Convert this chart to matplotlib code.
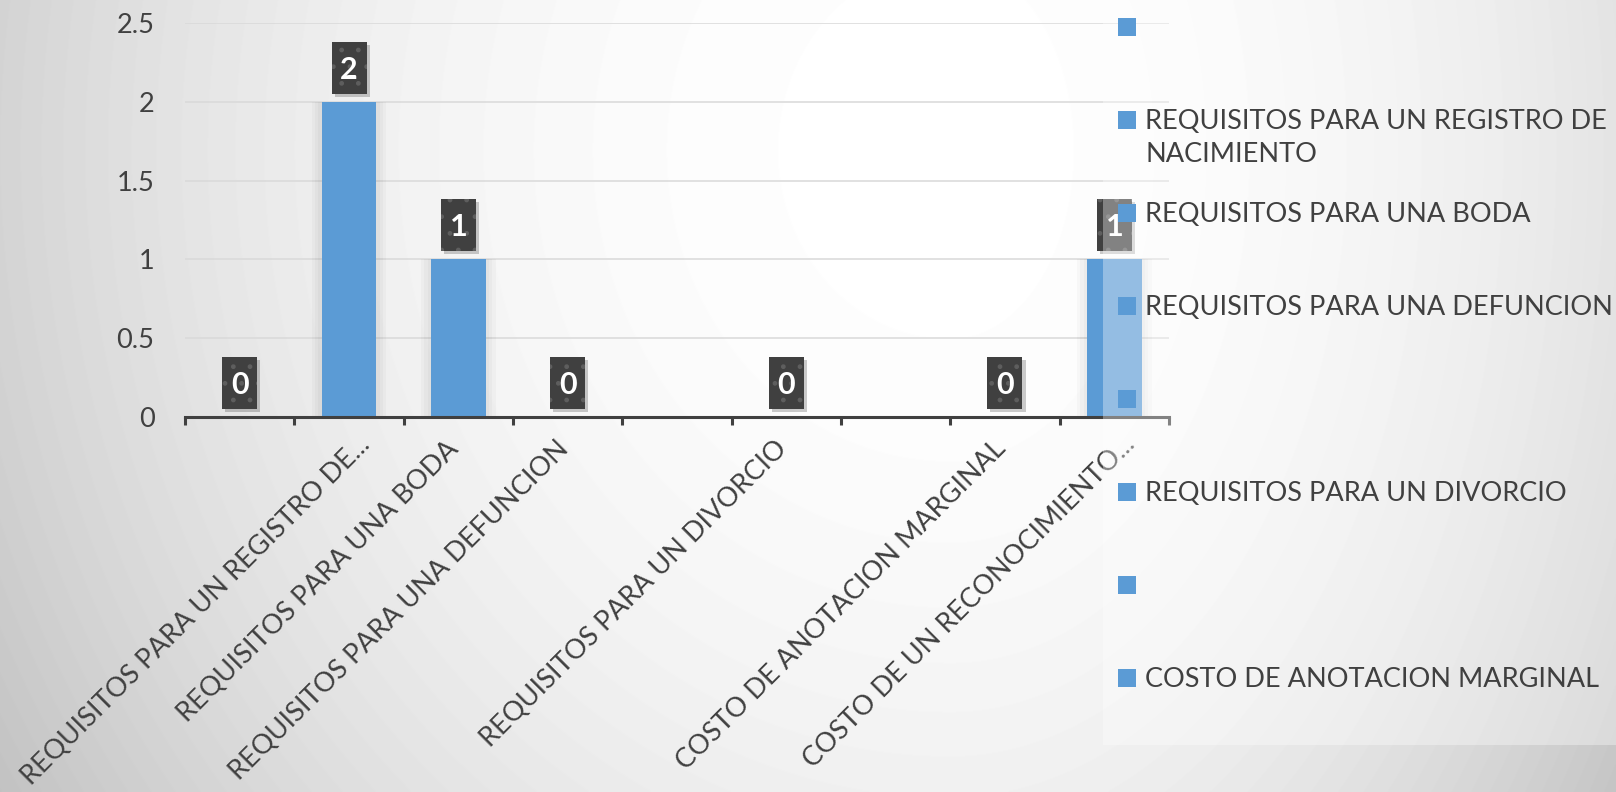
import textwrap
import numpy as np
import matplotlib.pyplot as plt
from matplotlib.patches import Rectangle

plt.rcParams['font.family'] = ['Lato', 'DejaVu Sans']

# datos del grafico
categorias = ['', 'REQUISITOS PARA UN REGISTRO DE NACIMIENTO', 'REQUISITOS PARA UNA BODA',
              'REQUISITOS PARA UNA DEFUNCION', '', 'REQUISITOS PARA UN DIVORCIO', '',
              'COSTO DE ANOTACION MARGINAL', 'COSTO DE UN RECONOCIMIENTO']
etiquetas_x = ['', 'REQUISITOS PARA UN REGISTRO DE...', 'REQUISITOS PARA UNA BODA',
               'REQUISITOS PARA UNA DEFUNCION', '', 'REQUISITOS PARA UN DIVORCIO', '',
               'COSTO DE ANOTACION MARGINAL', 'COSTO DE UN RECONOCIMIENTO...']
valores = [0, 2, 1, 0, None, 0, None, 0, 1]
ticks_y = [0, 0.5, 1, 1.5, 2, 2.5]
etiquetas_y = ['0', '0.5', '1', '1.5', '2', '2.5']

AZUL = '#5B9BD5'
GRIS_TXT = '#404040'
FS = 19.5
W, H = 1616, 792

fig = plt.figure(figsize=(W / 100, H / 100), dpi=100)

# fondo con degradado gris
yy, xx = np.mgrid[0:H, 0:W]
sx = np.where(xx < 950, 1000.0, 720.0)
d = np.sqrt(((xx - 950) / sx) ** 2 + ((yy - 150) / 1100.0) ** 2)
gris = np.clip((255 - 48 * d ** 2.2) / 255.0, 0, 1)
fondo = fig.add_axes([0, 0, 1, 1], zorder=-10)
fondo.imshow(gris, cmap='gray', vmin=0, vmax=1, aspect='auto')
fondo.axis('off')

# grafico de barras
ax = fig.add_axes([185 / W, 1 - 417 / H, (1169 - 185) / W, (417 - 23) / H])
ax.patch.set_alpha(0)
x = np.arange(len(categorias))
idx = [i for i, v in enumerate(valores) if v is not None]
xb = [x[i] for i in idx]
vb = [valores[i] for i in idx]
# sombra suave alrededor de las barras
for k in range(1, 4):
    ax.bar(xb, vb, width=0.5 + 0.06 * k, color='black', alpha=0.025, lw=0, zorder=1.5)
ax.bar(xb, vb, width=0.5, color=AZUL, zorder=2)

ax.set_xlim(-0.5, len(categorias) - 0.5)
ax.set_ylim(0, 2.5)
ax.set_yticks(ticks_y)
ax.set_yticklabels(etiquetas_y)
ax.set_xticks(np.arange(-0.5, len(categorias), 1))
ax.set_xticklabels([])
ax.grid(axis='y', color='#d9d9d9', lw=1.1)
ax.set_axisbelow(True)
for s in ['top', 'right', 'left']:
    ax.spines[s].set_visible(False)
ax.spines['bottom'].set_color(GRIS_TXT)
ax.spines['bottom'].set_linewidth(2.2)
ax.spines['bottom'].set_zorder(3)
ax.tick_params(axis='x', direction='out', length=6, width=2.2, color=GRIS_TXT)
ax.tick_params(axis='y', length=0, pad=22, labelsize=FS, labelcolor=GRIS_TXT)

# etiquetas de datos (caja oscura con sombra), tamanos en pixeles
px_x = ax.bbox.width / (len(categorias))
px_y = ax.bbox.height / 2.5
caja_w, caja_h, sep = 35 / px_x, 52 / px_y, 8 / px_y
for i in idx:
    v = valores[i]
    ax.add_patch(Rectangle((x[i] - caja_w / 2 + 3 / px_x, v + sep - 3 / px_y), caja_w, caja_h,
                           fc='black', ec='none', alpha=0.2, zorder=3, clip_on=False))
    ax.add_patch(Rectangle((x[i] - caja_w / 2, v + sep), caja_w, caja_h,
                           fc='#404040', ec='#5e5e5e', lw=0, hatch='.', zorder=4,
                           clip_on=False))
    ax.text(x[i], v + sep + caja_h / 2 - 2 / px_y, str(v), ha='center', va='center',
            fontsize=22, fontweight='bold', color='white', zorder=5)

# etiquetas del eje x giradas
for i, lab in enumerate(etiquetas_x):
    if lab:
        off = (22, -29) if lab.endswith('...') else (2, -33)
        ax.annotate(lab, xy=(x[i], 0), xycoords=('data', 'axes fraction'),
                    xytext=off, textcoords='offset pixels', rotation=45,
                    ha='right', va='baseline', rotation_mode='anchor',
                    fontsize=FS, color=GRIS_TXT)

# panel claro a la derecha con la leyenda
pan = fig.add_axes([1103 / W, 1 - 745 / H, (W - 1103) / W, 745 / H], zorder=5)
pan.set_xlim(1103, W)
pan.set_ylim(745, 0)
pan.patch.set_facecolor('white')
pan.patch.set_alpha(0.35)
pan.set_xticks([])
pan.set_yticks([])
for s in pan.spines.values():
    s.set_visible(False)

for i, nombre in enumerate(categorias):
    yc = 27 + 93 * i
    pan.scatter([1127], [yc], marker='s', s=168, color=AZUL, lw=0)
    pan.text(1145, yc - 11, textwrap.fill(nombre, 30), ha='left', va='top',
             fontsize=FS, color=GRIS_TXT, linespacing=1.42, clip_on=True)

fig.savefig('out.png', dpi=100)
